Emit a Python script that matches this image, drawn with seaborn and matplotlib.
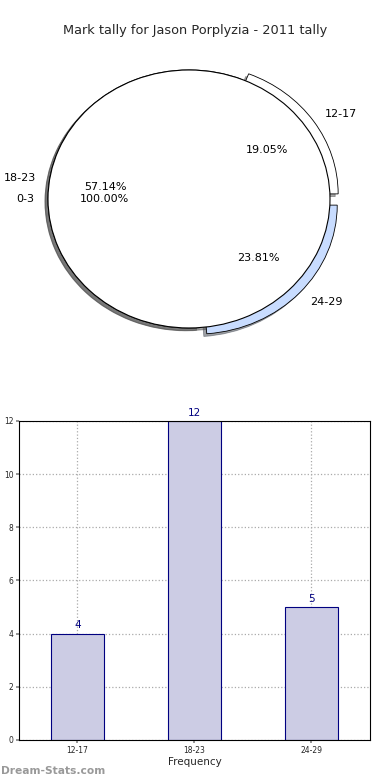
import matplotlib
matplotlib.use("Agg")
import matplotlib.pyplot as plt
import seaborn as sns
import pandas as pd

# ---- data ----
categories = ["12-17", "18-23", "24-29"]
counts = [4, 12, 5]
overlay_labels = ["0-3"]
overlay_values = [1]
title = "Mark tally for Jason Porplyzia - 2011 tally"

sns.set_theme(style="white")
plt.rcParams['font.family'] = ['DejaVu Sans']

fig = plt.figure(figsize=(3.9, 7.8), dpi=100)
fig.patch.set_facecolor("white")

# ---- pie ----
axp = fig.add_axes([0.0146, 0.5299, 0.94, 0.43])
shadow = dict(ox=-0.015, oy=-0.015)
wedges, texts, autotexts = axp.pie(
    counts, labels=categories, explode=[0.07, 0.0, 0.07],
    colors=["white", "white", "#c8dcff"], startangle=0,
    autopct="%.2f%%", pctdistance=0.6, labeldistance=1.1, shadow=shadow,
    wedgeprops=dict(edgecolor="black", linewidth=0.6),
    textprops=dict(fontsize=8, color="black"))
w2, t2, a2 = axp.pie(
    overlay_values, labels=overlay_labels, colors=["white"], startangle=0,
    autopct="%.2f%%", pctdistance=0.6, labeldistance=1.1, shadow=shadow,
    wedgeprops=dict(edgecolor="black", linewidth=0.8),
    textprops=dict(fontsize=8, color="black"))
for p in w2:
    p.set_zorder(5)
for t in t2 + a2 + texts + autotexts:
    t.set_zorder(10)
    t.set_clip_on(False)
axp.set_aspect("auto")
axp.set_xlim(-1.3, 1.3)
axp.set_ylim(-1.3, 1.3)
axp.axis("off")
fig.text(0.5, 0.961, title, ha="center", va="center", fontsize=9.3)

# ---- bars ----
axb = fig.add_axes([0.0487, 0.0513, 0.9, 0.409])
df = pd.DataFrame({"cat": categories, "n": counts})
sns.barplot(data=df, x="cat", y="n", ax=axb, color="#ccccE4",
            edgecolor="#000080", linewidth=0.8, width=0.45, saturation=1)
axb.set_xlim(-0.5, 2.5)
axb.set_ylim(0, 12)
axb.set_yticks(range(0, 13, 2))
axb.grid(True, linestyle=":", color="#aaaaaa", linewidth=0.9, zorder=3)
for b in axb.patches:
    b.set_zorder(1)
for i, v in enumerate(counts):
    axb.text(i, v + 0.12, str(v), ha="center", va="bottom", fontsize=7.5,
             color="#000080")
axb.tick_params(axis="both", labelsize=5.5, direction="out", length=2,
                color="#888888", left=True, bottom=True, pad=2)
for s in axb.spines.values():
    s.set_color("black")
    s.set_linewidth(0.8)
    s.set_zorder(6)
axb.set_xlabel("Frequency", fontsize=7.5, labelpad=2)
axb.set_ylabel("Student Tally", fontsize=7.5, labelpad=9)

fig.text(0.002, 0.012, "Dream-Stats.com", ha="left", va="center",
         fontsize=7.7, color="#999999", fontweight="bold")

fig.savefig("out.png", dpi=100, facecolor="white")
